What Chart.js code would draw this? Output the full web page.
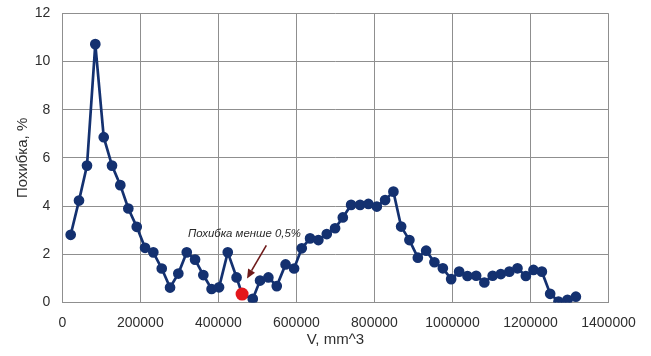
<!DOCTYPE html>
<html>
<head>
<meta charset="utf-8">
<script src="https://cdn.jsdelivr.net/npm/chart.js@4"></script>
<style>
html,body{margin:0;padding:0;background:#fff;}
#wrap{width:651px;height:356px;}
</style>
</head>
<body>
<div id="wrap"><canvas id="c" width="651" height="356"></canvas></div>
<script>
const volumes = [21500, 42800, 63300, 84600, 106200, 127400, 148700, 169200, 190800, 212100,
  233300, 254900, 276200, 297400, 319000, 340300, 361500, 382600, 401800, 424100,
  446700, 460800, 488200, 506900, 528200, 549700, 572300, 594100, 613800, 635100,
  656400, 677900, 699200, 719000, 740300, 763300, 784600, 806200, 827400, 848700,
  868500, 889700, 911300, 932600, 953800, 975400, 996700, 1017200, 1038500, 1060800,
  1081800, 1103100, 1124100, 1145900, 1166700, 1188200, 1207700, 1229200, 1250500, 1271800,
  1294900, 1316400];
const errors = [2.81, 4.23, 5.68, 10.72, 6.86, 5.68, 4.87, 3.90, 3.14, 2.27,
  2.08, 1.41, 0.62, 1.20, 2.08, 1.78, 1.14, 0.56, 0.63, 2.08,
  1.04, 0.35, 0.15, 0.91, 1.04, 0.68, 1.58, 1.41, 2.25, 2.66,
  2.59, 2.84, 3.08, 3.53, 4.05, 4.05, 4.09, 3.98, 4.25, 4.60,
  3.15, 2.59, 1.86, 2.15, 1.67, 1.42, 0.97, 1.28, 1.10, 1.11,
  0.83, 1.11, 1.18, 1.28, 1.42, 1.10, 1.35, 1.28, 0.36, 0.04,
  0.11, 0.24];
const highlightVolume = [460800];
const highlightError = [0.35];
const xTicks = [0, 200000, 400000, 600000, 800000, 1000000, 1200000, 1400000];
const yTicks = [0, 2, 4, 6, 8, 10, 12];
const noteText = 'Похибка менше 0,5%';
const noteAt = {x: 322000, y: 2.87};
const arrowFrom = {x: 523000, y: 2.37};
const arrowTo = {x: 473500, y: 1.0};

const mainData = volumes.map((v, i) => ({x: v, y: errors[i]}));
const redData = highlightVolume.map((v, i) => ({x: v, y: highlightError[i]}));

const annotPlugin = {
  id: 'annot',
  afterDatasetsDraw(chart) {
    const {ctx, scales: {x, y}} = chart;
    ctx.save();
    ctx.font = 'italic 11.4px "Liberation Sans", Arial, sans-serif';
    ctx.fillStyle = '#2b2b2b';
    ctx.textBaseline = 'middle';
    ctx.textAlign = 'left';
    ctx.fillText(noteText, x.getPixelForValue(noteAt.x), y.getPixelForValue(noteAt.y));
    const x1 = x.getPixelForValue(arrowFrom.x), y1 = y.getPixelForValue(arrowFrom.y);
    const x2 = x.getPixelForValue(arrowTo.x), y2 = y.getPixelForValue(arrowTo.y);
    const ang = Math.atan2(y2 - y1, x2 - x1);
    const hl = 9, hw = 4;
    const bx = x2 - hl * Math.cos(ang), by = y2 - hl * Math.sin(ang);
    ctx.strokeStyle = '#6e1a1a';
    ctx.fillStyle = '#6e1a1a';
    ctx.lineWidth = 1.6;
    ctx.beginPath();
    ctx.moveTo(x1, y1);
    ctx.lineTo(bx, by);
    ctx.stroke();
    ctx.beginPath();
    ctx.moveTo(x2, y2);
    ctx.lineTo(bx + hw * Math.sin(ang), by - hw * Math.cos(ang));
    ctx.lineTo(bx - hw * Math.sin(ang), by + hw * Math.cos(ang));
    ctx.closePath();
    ctx.fill();
    ctx.restore();
  }
};

new Chart(document.getElementById('c'), {
  type: 'scatter',
  data: {
    datasets: [
      {
        data: redData,
        showLine: false,
        pointRadius: 6.5,
        pointBackgroundColor: '#e3161b',
        pointBorderColor: '#e3161b',
        borderWidth: 0,
        order: 0
      },
      {
        data: mainData,
        showLine: true,
        borderColor: '#143170',
        borderWidth: 2.7,
        pointRadius: 4,
        pointBackgroundColor: '#143170',
        pointBorderColor: '#143170',
        tension: 0,
        order: 1
      }
    ]
  },
  options: {
    responsive: false,
    animation: false,
    devicePixelRatio: 1,
    layout: {padding: {top: 13.3, right: 42.5, left: 0, bottom: 0}},
    plugins: {legend: {display: false}, tooltip: {enabled: false}},
    scales: {
      x: {
        type: 'linear',
        min: 0, max: 1400000,
        afterBuildTicks(s) { s.ticks = xTicks.map(v => ({value: v})); },
        afterFit(s) { s.height = 53.5; s.paddingLeft = 0; s.paddingRight = 0; },
        ticks: {
          callback: v => String(v),
          color: '#2e2e2e',
          font: {family: '"Liberation Sans", Arial, sans-serif', size: 14},
          padding: 12,
          maxRotation: 0,
          autoSkip: false
        },
        grid: {color: '#8f8f8f', lineWidth: 1, drawTicks: false},
        border: {color: '#8f8f8f', width: 1},
        title: {
          display: true,
          text: 'V, mm^3',
          color: '#2e2e2e',
          font: {family: '"Liberation Sans", Arial, sans-serif', size: 15},
          padding: {top: 0, bottom: 7}
        }
      },
      y: {
        type: 'linear',
        min: 0, max: 12,
        afterBuildTicks(s) { s.ticks = yTicks.map(v => ({value: v})); },
        afterFit(s) { s.width = 62.3; s.paddingTop = 0; s.paddingBottom = 0; },
        ticks: {
          color: '#2e2e2e',
          font: {family: '"Liberation Sans", Arial, sans-serif', size: 14},
          padding: 12
        },
        grid: {color: '#8f8f8f', lineWidth: 1, drawTicks: false},
        border: {color: '#8f8f8f', width: 1},
        title: {
          display: true,
          text: 'Похибка, %',
          color: '#2e2e2e',
          font: {family: '"Liberation Sans", Arial, sans-serif', size: 15},
          padding: {top: 14, bottom: 0}
        }
      }
    }
  },
  plugins: [annotPlugin]
});
</script>
</body>
</html>
